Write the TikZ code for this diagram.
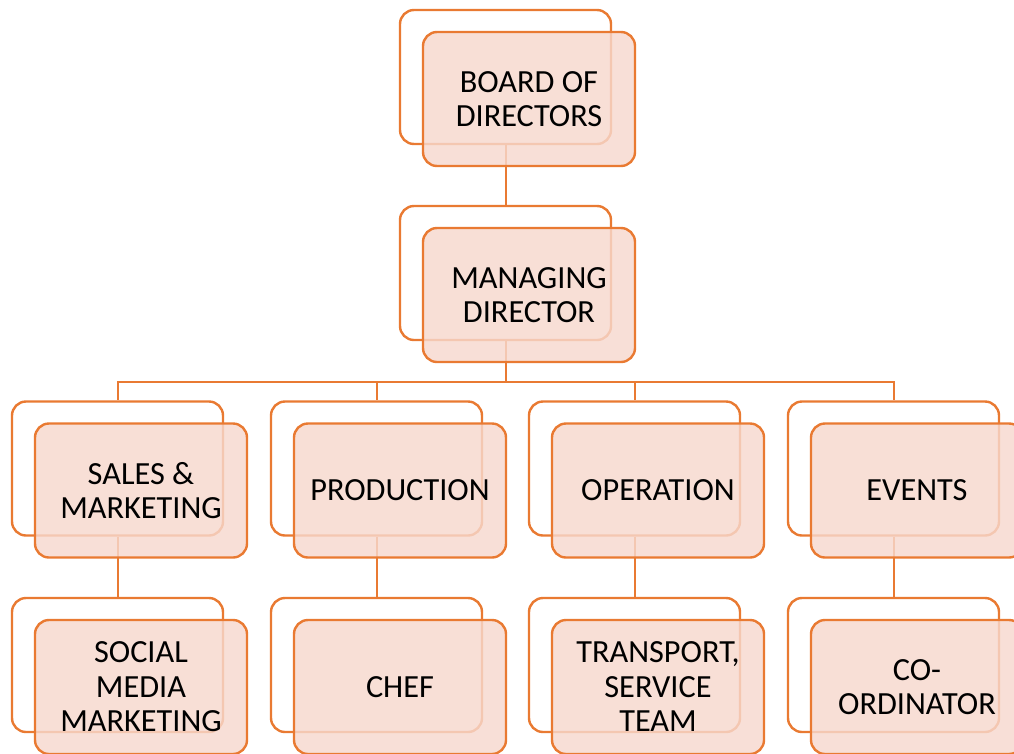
\documentclass[tikz,border=0pt]{standalone}
\usepackage{fontspec}
\setmainfont{Carlito}
\definecolor{orgline}{HTML}{E97A32}
\definecolor{pinkfill}{HTML}{F7D8CE}
\tikzset{
  backbox/.style={draw=orgline, line width=2.4pt, fill=white, rounded corners=14pt,
    minimum width=211pt, minimum height=134pt, inner sep=0pt},
  frontbox/.style={draw=orgline, line width=2.4pt, fill=pinkfill, fill opacity=0.82,
    text opacity=1, rounded corners=14pt, minimum width=212pt, minimum height=134pt,
    inner sep=0pt, align=center, font=\fontsize{32.3}{34.5}\selectfont},
  link/.style={draw=orgline, line width=2pt}
}
\begin{document}
\begin{tikzpicture}[x=1pt,y=-1pt]
\useasboundingbox (0,0) rectangle (1014,753);
\clip (0,0) rectangle (1014,753);
% back boxes
\node[backbox] (bod-b) at (505.5,77) {};
\node[backbox] (md-b) at (505.5,273) {};
\node[backbox] (sm-b) at (117.5,468.5) {};
\node[backbox] (pr-b) at (376.5,468.5) {};
\node[backbox] (op-b) at (634.5,468.5) {};
\node[backbox] (ev-b) at (893.5,468.5) {};
\node[backbox] (so-b) at (117.5,665) {};
\node[backbox] (ch-b) at (376.5,665) {};
\node[backbox] (tr-b) at (634.5,665) {};
\node[backbox] (co-b) at (893.5,665) {};
% connectors
\coordinate (bus) at (505.5,382);
\draw[link] (bod-b.south) -- (md-b.north);
\draw[link] (md-b.south) -- (bus);
\draw[link] (bus) -| (sm-b.north);
\draw[link] (bus) -| (pr-b.north);
\draw[link] (bus) -| (op-b.north);
\draw[link] (bus) -| (ev-b.north);
\draw[link] (sm-b.south) -- (so-b.north);
\draw[link] (pr-b.south) -- (ch-b.north);
\draw[link] (op-b.south) -- (tr-b.north);
\draw[link] (ev-b.south) -- (co-b.north);
% front boxes
\node[frontbox] (bod) at (529,99) {BOARD OF\\DIRECTORS};
\node[frontbox] (md) at (529,295) {MANAGING\\DIRECTOR};
\node[frontbox] (sm) at (141,490.5) {SALES \&\\MARKETING};
\node[frontbox] (pr) at (400,490.5) {PRODUCTION};
\node[frontbox] (op) at (658,490.5) {OPERATION};
\node[frontbox] (ev) at (917,490.5) {EVENTS};
\node[frontbox] (so) at (141,687) {SOCIAL\\MEDIA\\MARKETING};
\node[frontbox] (ch) at (400,687) {CHEF};
\node[frontbox] (tr) at (658,687) {TRANSPORT,\\SERVICE\\TEAM};
\node[frontbox] (co) at (917,687) {CO-\\ORDINATOR};
\end{tikzpicture}
\end{document}
